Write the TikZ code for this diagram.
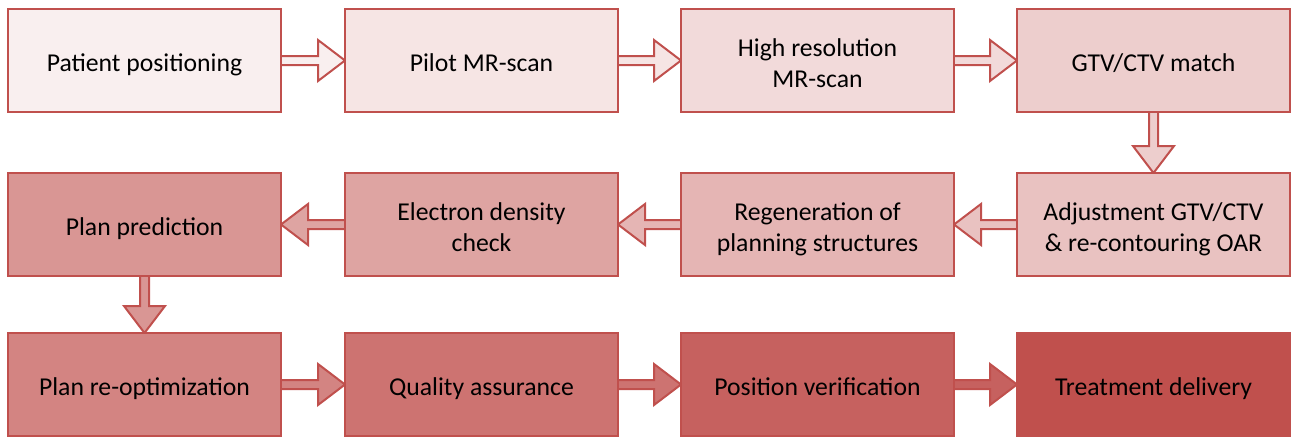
\documentclass[tikz,border=0pt]{standalone}
\usepackage{fontspec}
\setmainfont{Carlito}
\usetikzlibrary{calc}
\pgfdeclarelayer{bg}
\pgfsetlayers{bg,main}
\definecolor{accent}{HTML}{C0504D}
\colorlet{c1}{accent!9!white}
\colorlet{c2}{accent!15!white}
\colorlet{c3}{accent!21!white}
\colorlet{c4}{accent!28!white}
\colorlet{c5}{accent!35!white}
\colorlet{c6}{accent!42!white}
\colorlet{c7}{accent!52!white}
\colorlet{c8}{accent!60!white}
\colorlet{c9}{accent!70!white}
\colorlet{c10}{accent!80!white}
\colorlet{c11}{accent!90!white}
\colorlet{c12}{accent}
\newcommand\tp{\rule{0pt}{29pt}}
\newcommand\bt{\rule[-7pt]{0pt}{7pt}}
\tikzset{
  flowbox/.style={draw=accent, line width=2pt, minimum width=273pt, minimum height=103pt,
    inner sep=0pt, outer sep=0pt, align=center, text=black,
    font=\fontsize{25.7}{31}\selectfont},
  blk/.style={draw=accent, line width=2pt, line join=miter}
}
\newcommand\blkarrow[3]{%
  \path[blk, fill=#3]
    ($(#1)!4.5pt!90:(#2)$) --
    ($($(#2)!27pt!(#1)$)!4.5pt!-90:(#1)$) --
    ($($(#2)!27pt!(#1)$)!20.5pt!-90:(#1)$) --
    (#2) --
    ($($(#2)!27pt!(#1)$)!20.5pt!90:(#1)$) --
    ($($(#2)!27pt!(#1)$)!4.5pt!90:(#1)$) --
    ($(#1)!4.5pt!-90:(#2)$);}
\begin{document}
\begin{tikzpicture}[x=1pt,y=1pt]
\useasboundingbox (0,0) rectangle (1291,-437);
% row 1
\node[flowbox, fill=c1] (b1) at (144.5,-60.5) {\tp Patient positioning\bt};
\node[flowbox, fill=c2] (b2) at (481.5,-60.5) {\tp Pilot MR-scan\bt};
\node[flowbox, fill=c3] (b3) at (817.5,-60.5) {\tp High resolution\\MR-scan\bt};
\node[flowbox, fill=c4] (b4) at (1153.5,-60.5) {\tp GTV/CTV match\bt};
% row 2
\node[flowbox, fill=c5] (b5) at (1153.5,-224.5) {\tp Adjustment GTV/CTV\\\& re-contouring OAR\bt};
\node[flowbox, fill=c6] (b6) at (817.5,-224.5) {\tp Regeneration of\\planning structures\bt};
\node[flowbox, fill=c7] (b7) at (481.5,-224.5) {\tp Electron density\\check\bt};
\node[flowbox, fill=c8] (b8) at (144.5,-224.5) {\tp Plan prediction\bt};
% row 3
\node[flowbox, fill=c9] (b9) at (144.5,-384.5) {\tp Plan re-optimization\bt};
\node[flowbox, fill=c10] (b10) at (481.5,-384.5) {\tp Quality assurance\bt};
\node[flowbox, fill=c11] (b11) at (817.5,-384.5) {\tp Position verification\bt};
\node[flowbox, fill=c12] (b12) at (1153.5,-384.5) {\tp Treatment delivery\bt};
\begin{pgfonlayer}{bg}
\blkarrow{b1.east}{b2.west}{c1}
\blkarrow{b2.east}{b3.west}{c2}
\blkarrow{b3.east}{b4.west}{c3}
\blkarrow{b4.south}{b5.north}{c4}
\blkarrow{b5.west}{b6.east}{c5}
\blkarrow{b6.west}{b7.east}{c6}
\blkarrow{b7.west}{b8.east}{c7}
\blkarrow{b8.south}{b9.north}{c8}
\blkarrow{b9.east}{b10.west}{c9}
\blkarrow{b10.east}{b11.west}{c10}
\blkarrow{b11.east}{b12.west}{c11}
\end{pgfonlayer}
\end{tikzpicture}
\end{document}
